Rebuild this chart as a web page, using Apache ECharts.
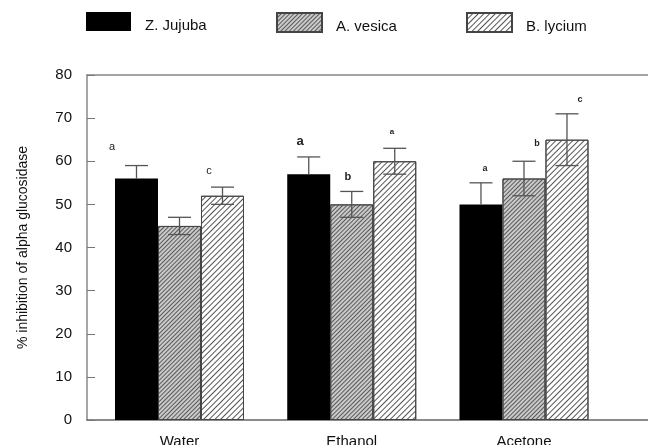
<!DOCTYPE html>
<html>
<head>
<meta charset="utf-8">
<script src="https://cdn.jsdelivr.net/npm/echarts@6/dist/echarts.min.js"></script>
<style>
html,body{margin:0;padding:0;background:#fff;}
#chart{width:648px;height:445px;}
</style>
</head>
<body>
<div id="chart"></div>
<script>
// ---- data ----
const categories = ['Water', 'Ethanol', 'Acetone'];
const seriesNames = ['Z. Jujuba', 'A. vesica', 'B. lycium'];
const zJujuba = [56, 57, 50];
const aVesica = [45, 50, 56];
const bLycium = [52, 60, 65];
const zJujubaErr = [3, 4, 5];
const aVesicaErr = [2, 3, 4];
const bLyciumErr = [2, 3, 6];
const yTicks = [0, 10, 20, 30, 40, 50, 60, 70, 80];
// significance letters: text, category x (1-based, with offset), y value
const letterText = ['a', 'c', 'a', 'b', 'a', 'a', 'b', 'c'];
const letterX = [0.608, 1.171, 1.700, 1.978, 2.234, 2.773, 3.075, 3.325];
const letterY = [63.3, 57.7, 64.7, 56.3, 66.8, 58.4, 64.2, 74.4];

// ---- styles ----
const FONT = '"Liberation Sans", Arial, sans-serif';
const letterStyles = [
  {size: 11, weight: 'normal'}, {size: 11, weight: 'normal'},
  {size: 13, weight: 'bold'}, {size: 11, weight: 'bold'},
  {size: 8, weight: 'bold'}, {size: 9, weight: 'bold'},
  {size: 9, weight: 'bold'}, {size: 9, weight: 'bold'}
];
const BAR_W = 43;
const values = [zJujuba, aVesica, bLycium];
const errs = [zJujubaErr, aVesicaErr, bLyciumErr];
const barStyles = [
  {color: '#000', borderColor: '#000', borderWidth: 0},
  {color: '#cacaca', borderColor: '#444', borderWidth: 1,
   decal: {symbol: 'rect', symbolSize: 1, dashArrayX: [1, 0], dashArrayY: [1, 1.6], rotation: -Math.PI / 4, color: '#5a5a5a'}},
  {color: '#fff', borderColor: '#444', borderWidth: 1,
   decal: {symbol: 'rect', symbolSize: 1, dashArrayX: [1, 0], dashArrayY: [1, 3], rotation: -Math.PI / 4, color: '#555'}}
];
const offsets = [-BAR_W, 0, BAR_W];

const xMin = 0.463, xMax = 3.72;

const series = [];
seriesNames.forEach((name, s) => {
  series.push({
    name: name,
    type: 'bar',
    barWidth: BAR_W,
    barGap: '0%',
    itemStyle: barStyles[s],
    emphasis: {disabled: true},
    data: values[s].map((v, i) => [i + 1, v]),
    z: 2
  });
});
seriesNames.forEach((name, s) => {
  series.push({
    type: 'custom',
    silent: true,
    z: 5,
    data: values[s].map((v, i) => [i + 1, v, errs[s][i]]),
    encode: {x: 0, y: 1},
    renderItem: function (params, api) {
      const x = api.value(0), v = api.value(1), e = api.value(2);
      const top = api.coord([x, v + e]);
      const mid = api.coord([x, v]);
      const bot = api.coord([x, v - e]);
      const cx = top[0] + offsets[s];
      const hw = 11.5;
      const st = {stroke: '#555', lineWidth: 1.3};
      const onDark = s === 0;
      const children = [
        {type: 'line', shape: {x1: cx, y1: top[1], x2: cx, y2: onDark ? mid[1] : bot[1]}, style: st},
        {type: 'line', shape: {x1: cx - hw, y1: top[1], x2: cx + hw, y2: top[1]}, style: st}
      ];
      if (!onDark) {
        children.push({type: 'line', shape: {x1: cx - hw, y1: bot[1], x2: cx + hw, y2: bot[1]}, style: st});
      }
      return {type: 'group', children: children};
    }
  });
});
series.push({
  type: 'custom',
  silent: true,
  z: 6,
  data: letterText.map((t, i) => [letterX[i], letterY[i], i]),
  encode: {x: 0, y: 1},
  renderItem: function (params, api) {
    const p = api.coord([api.value(0), api.value(1)]);
    const i = api.value(2);
    return {
      type: 'text',
      style: {
        x: p[0], y: p[1], text: letterText[i],
        align: 'center', verticalAlign: 'middle',
        font: letterStyles[i].weight + ' ' + letterStyles[i].size + 'px ' + FONT,
        fill: '#222'
      }
    };
  }
});

const legendLefts = [86, 276, 466];
const legends = seriesNames.map((n, i) => ({
  data: [n],
  left: legendLefts[i],
  top: 12,
  padding: 0,
  icon: 'rect',
  itemWidth: 45,
  itemHeight: 19,
  selectedMode: false,
  formatter: name => '{t|' + name + '}',
  textStyle: {
    fontFamily: FONT, fontSize: 15, color: '#111',
    rich: {t: {fontFamily: FONT, fontSize: 15, color: '#111', padding: [9, 0, 0, 9]}}
  }
}));

const chart = echarts.init(document.getElementById('chart'), null, {renderer: 'canvas'});
chart.setOption({
  animation: false,
  backgroundColor: '#fff',
  legend: legends,
  grid: {left: 87, right: 0, top: 75, bottom: 25, containLabel: false, outerBoundsMode: 'none'},
  xAxis: [{
    type: 'value',
    min: xMin, max: xMax,
    axisLine: {show: true, lineStyle: {color: '#666', width: 1.5}},
    axisTick: {show: false},
    splitLine: {show: false},
    axisLabel: {
      customValues: [1, 2, 3],
      formatter: v => categories[Math.round(v) - 1] || '',
      fontFamily: FONT, fontSize: 15, color: '#111', margin: 14
    }
  }, {
    type: 'value',
    position: 'top',
    min: xMin, max: xMax,
    axisLine: {show: true, lineStyle: {color: '#888', width: 1.5}},
    axisTick: {show: false},
    axisLabel: {show: false},
    splitLine: {show: false}
  }],
  yAxis: {
    type: 'value',
    min: yTicks[0], max: yTicks[yTicks.length - 1], interval: 10,
    name: '% inhibition of alpha glucosidase',
    nameLocation: 'middle',
    nameGap: 57,
    nameTextStyle: {fontFamily: FONT, fontSize: 14, color: '#111'},
    axisLine: {show: true, lineStyle: {color: '#888', width: 1.5}},
    axisTick: {show: true, inside: true, length: 8, lineStyle: {color: '#777'}},
    splitLine: {show: false},
    axisLabel: {fontFamily: FONT, fontSize: 15, color: '#111', margin: 15}
  },
  series: series
});
</script>
</body>
</html>
